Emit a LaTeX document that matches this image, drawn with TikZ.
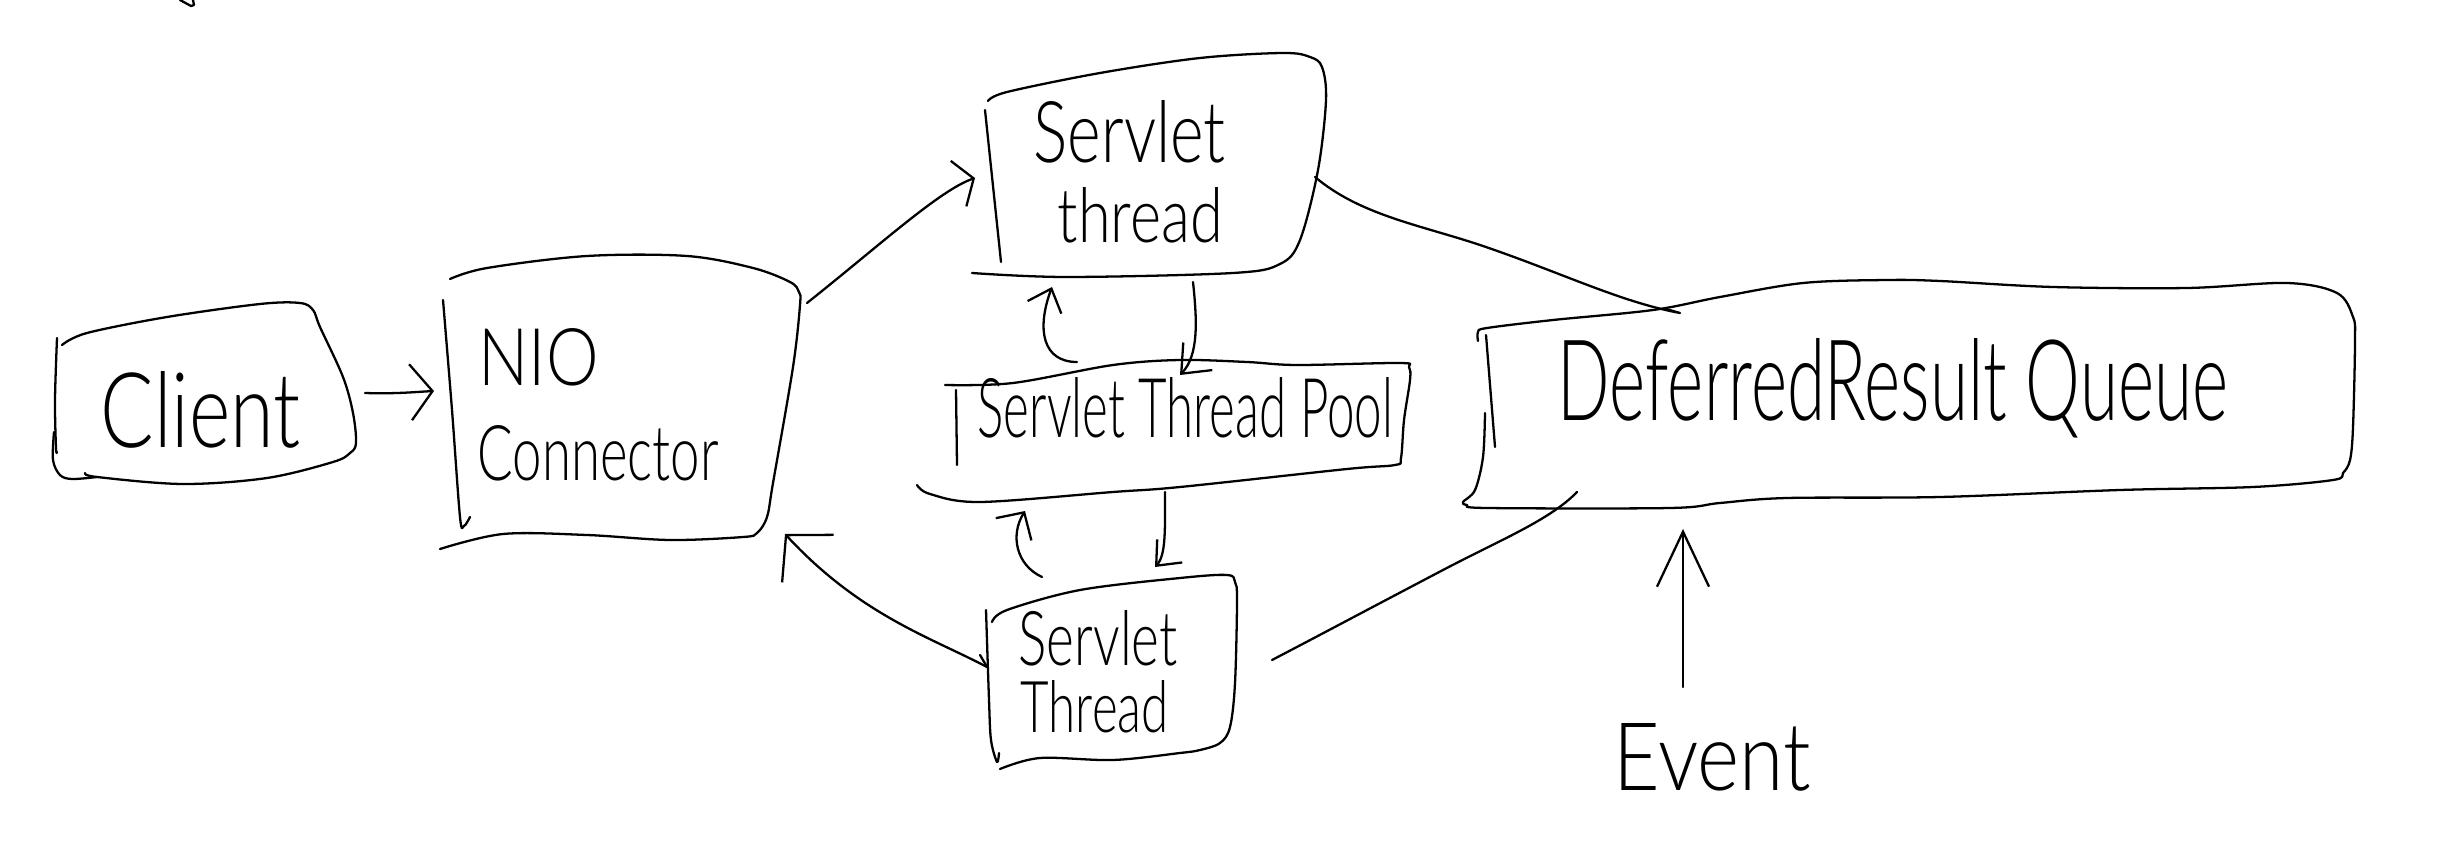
\documentclass[tikz,border=0pt]{standalone}
\usepackage{fontspec}
\usepackage{graphicx}
\newfontfamily\hand{Lato Light}
\usetikzlibrary{arrows.meta}
\newdimen\su \su=0.01cm
\newcommand\hw[3]{\resizebox{#1\su}{#2\su}{\hand #3}}
\begin{document}
\begin{tikzpicture}[x=0.01cm, y=-0.01cm,
  pen/.style={line width=0.65pt, line cap=round, line join=round},
  lbl/.style={inner sep=0pt, anchor=base west},
  sm/.style={pen, smooth, tension=0.55}]
\useasboundingbox (0,0) rectangle (2446,852);

% tiny stroke at top
\draw[pen] (180,0) -- (191,6) -- (194,5) -- (193,0);

% ---------- labels ----------
\node[lbl] (client) at (100,447) {\hw{200}{76}{Client}};
\node[lbl] (nio) at (478,385) {\hw{120}{57}{NIO}};
\node[lbl] (conn) at (477,480) {\hw{241}{55}{Connector}};
\node[lbl] (st1) at (1033,163) {\hw{192}{62}{Servlet}};
\node[lbl] (st1b) at (1057,243) {\hw{165}{55}{thread}};
\node[lbl] (pool) at (977,437) {\hw{415}{60}{Servlet Thread Pool}};
\node[lbl] (st2) at (1018,665) {\hw{159}{55}{Servlet}};
\node[lbl] (st2b) at (1020,732) {\hw{148}{52}{Thread}};
\node[lbl] (queue) at (1557,420) {\hw{670}{82}{DeferredResult Queue}};
\node[lbl] (event) at (1613,790) {\hw{197}{67}{Event}};

% ---------- boxes ----------
% Client
\draw[sm] plot coordinates {(62,345) (87,333) (167,317) (260,304) (300,303) (313,310) (320,327) (343,377) (353,413) (356,443) (350,453) (333,462) (267,478) (183,484) (97,477) (85,473)};
\draw[sm] plot coordinates {(57,338) (55,400) (56,448) (57,452)};
\draw[sm] plot coordinates {(54,432) (53,460) (60,475) (72,479) (97,477)};
% NIO Connector
\draw[sm] plot coordinates {(443,300) (452,410) (460,517) (464,526) (470,517)};
\draw[sm] plot coordinates {(450,279) (487,268) (587,256) (687,256) (753,268) (790,282) (799,292) (800,305) (793,367) (773,483) (767,517) (757,533) (743,537) (670,540) (587,535) (503,534) (440,549)};
% top Servlet thread
\draw[sm] plot coordinates {(985,110) (1001,262)};
\draw[sm] plot coordinates {(988,101) (1007,92) (1100,73) (1200,58) (1283,53) (1310,57) (1322,67) (1326,100) (1318,170) (1300,240) (1280,264) (1233,273) (1067,277) (972,273)};
% Servlet Thread Pool
\draw[sm] plot coordinates {(956,390) (957,465)};
\draw[sm] plot coordinates {(945,385) (1013,383) (1113,365) (1180,360) (1247,362) (1297,365) (1400,363) (1409,367) (1410,380) (1404,420) (1401,458) (1395,465) (1347,469) (1180,487) (1113,492) (980,502) (930,494) (917,485)};
% bottom Servlet Thread
\draw[sm] plot coordinates {(986,610) (989,700) (991,740) (997,762) (999,753)};
\draw[sm] plot coordinates {(992,622) (1007,610) (1080,590) (1180,578) (1227,575) (1235,582) (1237,600) (1235,683) (1230,727) (1220,743) (1200,750) (1180,753) (1113,760) (1040,758) (1000,769)};
% DeferredResult Queue
\draw[sm] plot coordinates {(1486,335) (1495,447)};
\draw[sm] plot coordinates {(1478,341) (1478,332) (1487,328) (1553,320) (1653,310) (1720,297) (1803,283) (1887,280) (1940,281) (2053,287) (2187,288) (2287,283) (2337,293) (2353,317) (2355,340) (2353,427) (2350,460) (2343,473) (2333,480) (2253,487) (2120,490) (1940,497) (1787,498) (1720,503) (1670,508) (1487,508) (1467,505) (1463,502) (1475,490) (1483,457) (1485,413)};

% ---------- connector end points ----------
\coordinate (c-out) at (365,393);
\coordinate (n-in) at (434,391);
\coordinate (n-out) at (807,303);
\coordinate (s1-in) at (975,178);
\coordinate (s1-out) at (1315,177);
\coordinate (q-in) at (1680,313);
\coordinate (q-out) at (1577,492);
\coordinate (s2-in) at (1272,660);
\coordinate (s2-out) at (987,667);
\coordinate (n-back) at (785,534);
\coordinate (p-up1s) at (1077,362);
\coordinate (s1-up) at (1052,287);
\coordinate (s1-dn) at (1193,282);
\coordinate (p-dn1) at (1180,375);
\coordinate (s2-up) at (1042,577);
\coordinate (p-up2) at (1025,511);
\coordinate (p-dn2s) at (1165,492);
\coordinate (s2-dn) at (1155,567);
\coordinate (ev-s) at (1683,687);
\coordinate (q-ev) at (1683,529);

% ---------- connectors ----------
\draw[pen, -{Straight Barb[length=2.2mm, width=5.6mm]}] (c-out) .. controls (395,394) and (415,392) .. (n-in);
\draw[pen, -{Straight Barb[length=1.6mm, width=4.8mm]}] (n-out) .. controls (880,245) and (940,190) .. (s1-in);
\draw[pen] (s1-out) .. controls (1360,215) and (1420,225) .. (1480,245) .. controls (1560,272) and (1620,302) .. (q-in) -- (1666,309);
\draw[pen] (q-out) .. controls (1550,520) and (1500,540) .. (1443,570) .. controls (1380,603) and (1320,635) .. (s2-in);
\draw[pen, -{Straight Barb[length=3.2mm, width=7mm]}] (s2-out) .. controls (930,637) and (860,615) .. (n-back);
\draw[pen] (s2-out) -- (980,655);
\draw[pen, -{Straight Barb[length=2mm, width=3.6mm]}] (p-up1s) .. controls (1043,362) and (1036,330) .. (s1-up);
\draw[pen, -{Straight Barb[length=2.4mm, width=4mm]}] (s1-dn) .. controls (1197,320) and (1199,355) .. (p-dn1);
\draw[pen, -{Straight Barb[length=2mm, width=4.2mm]}] (s2-up) .. controls (1016,565) and (1010,535) .. (p-up2);
\draw[pen, -{Straight Barb[length=2mm, width=3.4mm]}] (p-dn2s) .. controls (1165,530) and (1166,555) .. (s2-dn);
\draw[pen, -{Straight Barb[length=5.5mm, width=5.2mm]}] (ev-s) -- (q-ev);
\end{tikzpicture}
\end{document}
